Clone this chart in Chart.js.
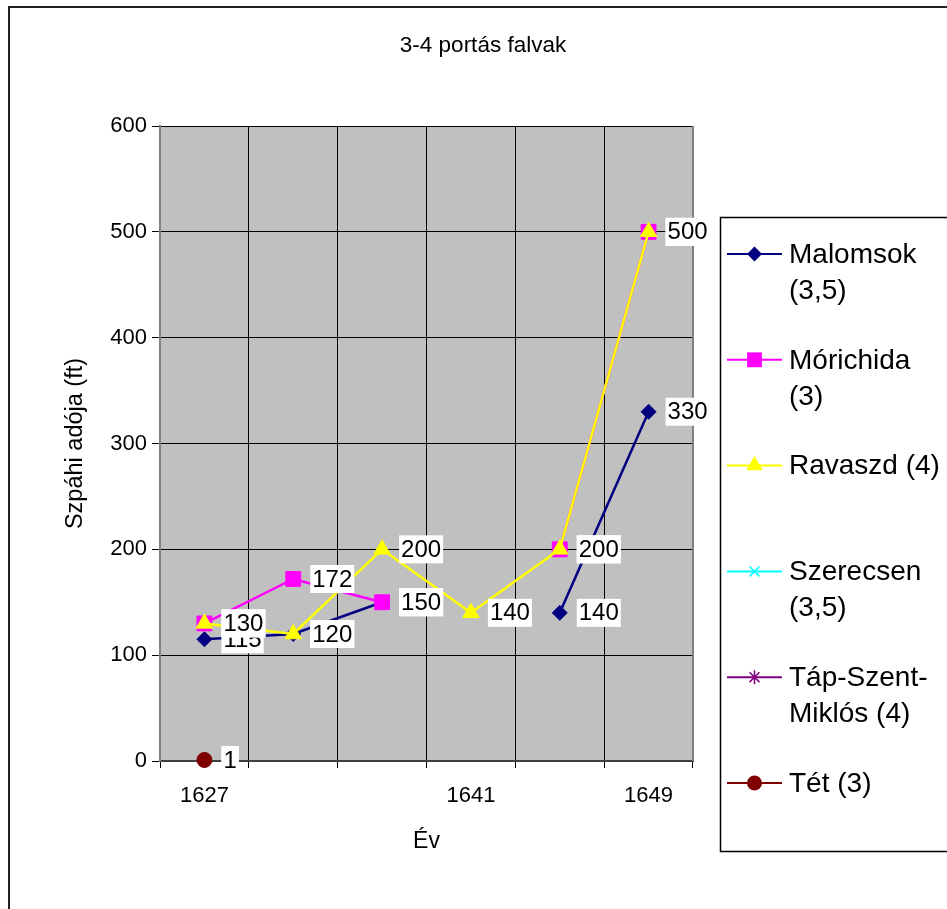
<!DOCTYPE html>
<html lang="hu">
<head>
    <meta charset="UTF-8">
    <title>3-4 portás falvak</title>
    <script src="https://cdn.jsdelivr.net/npm/chart.js"></script>
    <style>
        body { margin: 0; background: #fff; }
        #wrap { width: 947px; height: 909px; }
    </style>
</head>
<body>
    <div id="wrap"><canvas id="chart" width="947" height="909"></canvas></div>

    <script>
        // Chart data
        const chartTitle = '3-4 portás falvak';
        const xTitle = 'Év';
        const yTitle = 'Szpáhi adója (ft)';
        const years = ['1627', '', '', '1641', '', '1649'];

        const seriesNames = ['Malomsok (3,5)', 'Mórichida (3)', 'Ravaszd (4)', 'Szerecsen (3,5)', 'Táp-Szent-Miklós (4)', 'Tét (3)'];
        // how the legend wraps each name
        const legendLines = [
            ['Malomsok', '(3,5)'],
            ['Mórichida', '(3)'],
            ['Ravaszd (4)'],
            ['Szerecsen', '(3,5)'],
            ['Táp-Szent-', 'Miklós (4)'],
            ['Tét (3)']
        ];

        const malomsok  = [115, 120, 150, null, 140, 330];
        const morichida = [130, 172, 150, null, 200, 500];
        const ravaszd   = [130, 120, 200, 140, 200, 500];
        const szerecsen = [null, null, null, null, null, null];
        const tapSzentMiklos = [0, null, null, null, null, null];
        const tet       = [1, null, null, null, null, null];

        const yTicks = [0, 100, 200, 300, 400, 500, 600];

        const colors = ['#000080', '#FF00FF', '#FFFF00', '#00FFFF', '#800080', '#800000'];
        const markers = ['rectRot', 'rect', 'triangle', 'crossRot', 'star', 'circle'];
        const markerSizes = [7.5, 10.5, 9.5, 7, 7, 7.5];

        const FONT = '"Liberation Sans", Arial, sans-serif';
        const allSeries = [malomsok, morichida, ravaszd, szerecsen, tapSzentMiklos, tet];

        const datasets = allSeries.map((values, i) => ({
            label: seriesNames[i],
            data: values,
            borderColor: colors[i],
            backgroundColor: colors[i],
            borderWidth: 2.5,
            pointStyle: markers[i],
            pointRadius: markerSizes[i],
            pointBorderWidth: 1,
            pointBorderColor: colors[i],
            pointBackgroundColor: colors[i],
            spanGaps: false,
            tension: 0,
            clip: false,
            order: allSeries.length - i // later series on top, like Excel
        }));

        // small marker drawer for the legend
        function drawMarker(ctx, style, x, y, r, color) {
            ctx.save();
            ctx.fillStyle = color;
            ctx.strokeStyle = color;
            ctx.lineWidth = 1.5;
            ctx.beginPath();
            if (style === 'rectRot') {
                ctx.moveTo(x, y - r); ctx.lineTo(x + r, y); ctx.lineTo(x, y + r); ctx.lineTo(x - r, y);
                ctx.closePath(); ctx.fill();
            } else if (style === 'rect') {
                const s = r * Math.SQRT1_2;
                ctx.rect(x - s, y - s, 2 * s, 2 * s); ctx.fill();
            } else if (style === 'triangle') {
                ctx.moveTo(x, y - r);
                ctx.lineTo(x + r * 0.866, y + r / 2);
                ctx.lineTo(x - r * 0.866, y + r / 2);
                ctx.closePath(); ctx.fill();
            } else if (style === 'circle') {
                ctx.arc(x, y, r, 0, Math.PI * 2); ctx.fill();
            } else if (style === 'crossRot') {
                const s = r * Math.SQRT1_2;
                ctx.moveTo(x - s, y - s); ctx.lineTo(x + s, y + s);
                ctx.moveTo(x + s, y - s); ctx.lineTo(x - s, y + s);
                ctx.stroke();
            } else if (style === 'star') {
                const s = r * Math.SQRT1_2;
                ctx.moveTo(x - s, y - s); ctx.lineTo(x + s, y + s);
                ctx.moveTo(x + s, y - s); ctx.lineTo(x - s, y + s);
                ctx.moveTo(x, y - r); ctx.lineTo(x, y + r);
                ctx.stroke();
            }
            ctx.restore();
        }

        const excelLook = {
            id: 'excelLook',
            beforeDraw(chart) {
                const { ctx, chartArea: a } = chart;
                ctx.save();
                ctx.fillStyle = '#fff';
                ctx.fillRect(0, 0, chart.width, chart.height);
                ctx.fillStyle = '#C0C0C0';
                ctx.fillRect(a.left, a.top, a.right - a.left, a.bottom - a.top);
                ctx.restore();
            },
            beforeDatasetsDraw(chart) {
                const { ctx, chartArea: a } = chart;
                ctx.save();
                ctx.strokeStyle = '#808080';
                ctx.lineWidth = 2;
                ctx.beginPath();
                ctx.moveTo(a.right, a.top);
                ctx.lineTo(a.right, a.bottom);
                ctx.stroke();
                ctx.restore();
            },
            afterDatasetsDraw(chart) {
                // data labels, white boxes to the right of each point
                const { ctx } = chart;
                ctx.save();
                ctx.font = '24px ' + FONT;
                ctx.textBaseline = 'middle';
                ctx.textAlign = 'left';
                chart.data.datasets.forEach((ds, i) => {
                    const meta = chart.getDatasetMeta(i);
                    meta.data.forEach((pt, j) => {
                        const v = ds.data[j];
                        if (v === null || v === undefined) return;
                        const txt = String(v);
                        const w = ctx.measureText(txt).width;
                        const bx = pt.x + 17;
                        ctx.fillStyle = '#fff';
                        ctx.fillRect(bx, pt.y - 14, w + 4, 28);
                        ctx.fillStyle = '#000';
                        ctx.fillText(txt, bx + 2, pt.y + 1);
                    });
                });
                ctx.restore();
            },
            afterDraw(chart) {
                const { ctx } = chart;
                ctx.save();
                // outer chart border
                ctx.strokeStyle = '#222';
                ctx.lineWidth = 2;
                ctx.strokeRect(9, 7, 2000, 2000);

                // title
                ctx.fillStyle = '#000';
                ctx.font = '22.5px ' + FONT;
                ctx.textAlign = 'center';
                ctx.textBaseline = 'middle';
                ctx.fillText(chartTitle, 483, 46);

                // legend box
                ctx.strokeStyle = '#000';
                ctx.lineWidth = 1.5;
                ctx.strokeRect(720.5, 217.5, 400, 634);

                ctx.font = '28px ' + FONT;
                ctx.textAlign = 'left';
                chart.data.datasets.forEach((ds, i) => {
                    const y = 254 + i * 105.8;
                    ctx.strokeStyle = colors[i];
                    ctx.lineWidth = 2;
                    ctx.beginPath();
                    ctx.moveTo(727, y);
                    ctx.lineTo(782, y);
                    ctx.stroke();
                    drawMarker(ctx, markers[i], 754.5, y, markerSizes[i], colors[i]);
                    ctx.fillStyle = '#000';
                    legendLines[i].forEach((line, k) => {
                        ctx.fillText(line, 789, y + 1 + k * 36);
                    });
                });
                ctx.restore();
            }
        };

        const ctx = document.getElementById('chart').getContext('2d');
        new Chart(ctx, {
            type: 'line',
            data: { labels: years, datasets: datasets },
            options: {
                responsive: false,
                animation: false,
                devicePixelRatio: 1,
                layout: { padding: { left: 10, right: 254, top: 126, bottom: 10 } },
                plugins: {
                    legend: { display: false },
                    tooltip: { enabled: false },
                    title: { display: false }
                },
                scales: {
                    x: {
                        type: 'category',
                        offset: true,
                        grid: { color: '#000', lineWidth: 1, offset: true, tickLength: 7 },
                        border: { color: '#404040', width: 2 },
                        ticks: {
                            color: '#000',
                            font: { family: FONT, size: 22 },
                            padding: 15,
                            autoSkip: false,
                            maxRotation: 0
                        },
                        title: {
                            display: true,
                            text: xTitle,
                            color: '#000',
                            font: { family: FONT, size: 23 },
                            padding: { top: 0, bottom: 44 }
                        },
                        afterFit(scale) { scale.height = 909 - 761 - 10; }
                    },
                    y: {
                        min: 0,
                        max: 600,
                        grid: { color: '#000', lineWidth: 1, tickLength: 8 },
                        border: { color: '#808080', width: 2 },
                        afterBuildTicks(scale) { scale.ticks = yTicks.map(v => ({ value: v })); },
                        ticks: {
                            color: '#000',
                            font: { family: FONT, size: 22 },
                            padding: 5
                        },
                        title: {
                            display: true,
                            text: yTitle,
                            color: '#000',
                            font: { family: FONT, size: 23.5 },
                            padding: { top: 51, bottom: 0 }
                        },
                        afterFit(scale) { scale.width = 160 - 10; }
                    }
                }
            },
            plugins: [excelLook]
        });
    </script>
</body>
</html>
